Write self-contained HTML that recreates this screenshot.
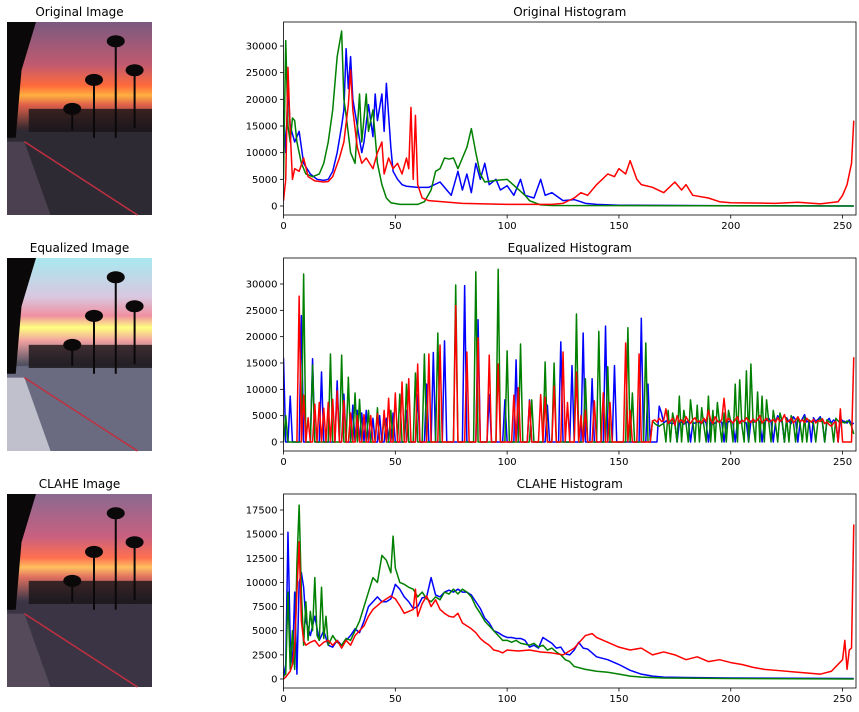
<!DOCTYPE html>
<html><head><meta charset="utf-8"><style>
body{margin:0;background:#fff;}
svg{display:block;font-family:"DejaVu Sans","Liberation Sans",sans-serif;}
</style></head><body>
<svg id="fig" width="859" height="712" viewBox="0 0 859 712">
<defs>
<linearGradient id="gOrig" x1="0" y1="0" x2="0" y2="1">
<stop offset="0" stop-color="#7a5a80"/><stop offset="0.22" stop-color="#c05a70"/><stop offset="0.33" stop-color="#ff6a3a"/><stop offset="0.38" stop-color="#ffb040"/><stop offset="0.43" stop-color="#e0604a"/><stop offset="0.55" stop-color="#3a2a30"/><stop offset="1" stop-color="#2a2230"/></linearGradient>
<linearGradient id="gEq" x1="0" y1="0" x2="0" y2="1">
<stop offset="0" stop-color="#a8e8f0"/><stop offset="0.2" stop-color="#d8c8e0"/><stop offset="0.3" stop-color="#f090a0"/><stop offset="0.36" stop-color="#ffff80"/><stop offset="0.43" stop-color="#f0a0a0"/><stop offset="0.55" stop-color="#505060"/><stop offset="0.7" stop-color="#706a80"/><stop offset="1" stop-color="#b0b0c0"/></linearGradient>
<linearGradient id="gCl" x1="0" y1="0" x2="0" y2="1">
<stop offset="0" stop-color="#8a6a90"/><stop offset="0.22" stop-color="#c86080"/><stop offset="0.33" stop-color="#ff7050"/><stop offset="0.38" stop-color="#ffc060"/><stop offset="0.43" stop-color="#e07060"/><stop offset="0.55" stop-color="#403848"/><stop offset="1" stop-color="#383048"/></linearGradient>
</defs>
<g id="images"></g>
<g id="charts"></g>
</svg>
<script>
// ---------- Original histogram data (bin, count) ----------
const origBlue=[[0,18000],[1,10000],[2,22000],[3,15000],[5,12000],[7,14000],[9,8000],[12,6000],[15,5000],[18,4800],[20,5000],[22,6500],[24,10000],[26,15000],[27,18000],[28,29500],[29,22000],[30,28000],[31,20000],[33,15000],[35,10000],[36,12000],[38,19000],[40,13000],[41,21000],[42,16000],[44,21000],[45,14000],[46,23000],[48,11000],[49,6500],[51,5000],[53,4000],[55,3700],[60,3500],[65,3500],[70,4500],[73,3000],[75,2000],[78,6500],[80,3000],[82,6000],[84,2500],[86,8000],[88,5000],[90,8000],[92,4000],[95,5000],[97,3000],[100,3800],[103,2000],[106,5000],[108,2000],[112,1500],[115,5000],[117,2000],[120,2500],[125,1000],[130,1200],[135,500],[140,300],[150,150],[200,50],[255,0]];
const origGreen=[[0,5000],[1,31000],[2,15000],[3,12000],[4,16500],[5,16000],[6,12000],[8,8000],[10,6000],[13,5500],[16,6000],[18,8000],[20,12000],[22,18000],[24,28000],[26,32800],[27,20000],[28,17000],[30,10000],[32,8000],[34,21000],[35,12000],[37,21000],[38,14000],[40,18000],[42,8000],[44,4000],[46,1500],[48,600],[52,300],[60,300],[63,800],[66,3000],[68,6500],[70,7000],[72,9000],[74,8800],[76,9000],[78,7000],[80,9000],[82,11000],[84,14500],[86,10000],[88,6000],[90,4500],[95,4800],[100,5000],[104,3500],[108,2000],[110,1000],[115,200],[120,100],[255,0]];
const origRed=[[0,1000],[1,5000],[2,26000],[3,14000],[4,5000],[5,7000],[7,6500],[9,9000],[11,5500],[14,4700],[18,4500],[20,4600],[22,5500],[25,9000],[27,12000],[29,19000],[30,25500],[31,18000],[33,11000],[35,8000],[37,9000],[40,7000],[42,10000],[44,12000],[45,6000],[47,9000],[49,7000],[51,8000],[53,6000],[55,9000],[56,7000],[57,18500],[58,5000],[59,17000],[60,4000],[62,1500],[65,1000],[80,500],[100,300],[120,300],[125,500],[130,1500],[133,2500],[136,2000],[140,4000],[145,6000],[148,5500],[150,7000],[153,6000],[155,8500],[158,5000],[160,4000],[165,3500],[170,2500],[175,4500],[178,3000],[180,4000],[183,2000],[190,1500],[195,800],[200,600],[220,500],[230,700],[240,400],[248,800],[250,2000],[252,4000],[254,8000],[255,16000]];

// ---------- Equalized histogram: isolated spikes (bin, count), then dense tail ----------
const eqBlueSpikes=[[0,16000],[3,8700],[8,24000],[13,15800],[17,13300],[24,11600],[27,9100],[31,7000],[33,6000],[35,5500],[37,6000],[40,4500],[43,5000],[46,4500],[49,5500],[55,6000],[60,9000],[64,11000],[67,17000],[72,19200],[81,29700],[87,23200],[92,9000],[99,8000],[104,15600],[110,8000],[118,7000],[124,19000],[129,14500],[134,20700],[138,12000],[144,22000],[148,14500],[160,23500],[163,11000]];
const eqGreenSpikes=[[1,5000],[9,31900],[13,14600],[21,16700],[26,16500],[29,12300],[32,9300],[34,8100],[38,6000],[42,6500],[45,5000],[48,6000],[52,9100],[55,11000],[59,13100],[63,16700],[69,20700],[77,29800],[86,32300],[96,32800],[100,17300],[106,18600],[111,8000],[117,15200],[121,15000],[131,24300],[135,12000],[141,21000],[145,14300],[154,21700],[156,9300],[162,18800]];
const eqRedSpikes=[[7,27700],[9,8900],[11,4600],[14,7200],[16,7500],[18,6400],[20,7500],[22,8100],[24,9700],[27,7800],[30,5500],[33,5000],[36,5200],[39,5000],[42,5400],[45,6000],[47,8300],[50,9300],[53,11400],[56,12000],[60,14800],[65,16700],[70,18400],[77,25900],[82,17100],[87,19800],[92,16500],[96,14800],[103,8900],[105,10300],[110,7800],[115,9000],[117,8500],[121,10600],[125,17100],[127,7500],[131,13300],[133,5000],[135,6000],[139,7800],[143,9300],[146,7500],[153,18800],[155,6000],[159,16700]];
const eqTailStart=165;
const eqBlueTail=[0,0,0,6800,5500,3600,4000,3800,3600,3500,3700,0,3600,3800,3400,3600,4000,0,3500,3600,3800,3700,3500,4200,3600,0,3800,3400,3600,3900,4000,3700,0,3600,3800,4100,3500,0,3900,3700,4200,3800,3600,0,4000,3700,3900,4300,3800,0,3600,4200,4500,3900,0,3800,5000,4200,3700,0,4600,3900,3500,4800,4200,0,3700,4400,5200,3800,4100,0,4600,3900,4300,4800,3700,0,4000,4500,3600,4200,3800,0,4500,4000,3900,3600,4200,3300,3600];
const eqGreenTail=[4000,3500,3200,3000,3300,3500,0,6000,0,5500,3500,0,8700,0,6000,3500,0,8000,4000,0,7000,0,6500,3000,0,8700,0,6000,0,7500,3500,0,5500,0,6000,3800,0,11000,0,11800,3000,0,13500,0,14800,3500,0,9500,0,8700,0,8000,3800,0,6000,3500,0,5500,4000,0,4500,0,5000,3800,0,4500,3500,0,4800,0,4200,3800,3500,0,4000,4500,3700,0,4200,3800,3600,0,4500,4000,3500,3800,3600,4000,3800,3000,1500];
const eqRedTail=[4000,4200,3800,4500,3900,4100,6300,3500,4000,4500,3200,5000,3800,4200,3600,4800,4000,3500,4200,4600,3800,4000,3600,4500,3900,6000,4200,3500,4800,4000,3700,4300,8300,3800,4500,4000,3600,4200,4800,3500,4100,3900,4600,4000,3700,4400,3800,4200,5000,3600,4100,4500,3800,4000,4300,3700,4600,3900,4200,5200,3800,4000,4500,3600,4100,4800,3900,4200,3700,4500,4000,3800,4300,3600,4100,3900,4400,3500,3800,3300,3000,3600,3900,0,6300,0,0,0,0,0,16100];

// ---------- CLAHE histogram data ----------
const claheBlue=[[0,200],[1,1500],[2,15200],[3,4000],[4,1500],[5,9000],[6,500],[7,10000],[8,11000],[9,9500],[10,6000],[12,4500],[14,6500],[16,4000],[18,5000],[20,3500],[22,3300],[24,4000],[26,3500],[28,4000],[30,4500],[32,5200],[34,4800],[36,6000],[38,7500],[40,8000],[42,8500],[44,8000],[46,8000],[48,8300],[50,9800],[52,9300],[54,8500],[56,8000],[58,7300],[60,7500],[62,8400],[64,8500],[66,10500],[68,8700],[70,8500],[72,9000],[74,9200],[76,9000],[78,9300],[80,9000],[82,9000],[84,8700],[86,8000],[88,7300],[90,6300],[92,5800],[94,5000],[96,4800],[98,4500],[100,4300],[102,4300],[104,4200],[106,4200],[108,4000],[110,3300],[112,3500],[114,3200],[116,4300],[118,4000],[120,3700],[122,3200],[124,3300],[126,2600],[128,2500],[130,3000],[132,3800],[134,3200],[136,3100],[138,2700],[140,2300],[145,2000],[150,1500],[155,900],[160,500],[165,300],[170,200],[180,150],[200,100],[255,50]];
const claheGreen=[[0,300],[1,500],[2,9000],[3,1000],[4,5000],[5,1000],[6,12000],[7,18000],[8,9000],[9,3500],[10,8000],[11,4000],[12,7000],[13,5000],[14,10500],[15,4500],[16,4000],[17,9500],[18,4200],[19,6500],[20,3500],[22,4500],[24,3800],[26,3500],[28,4200],[30,4000],[32,5000],[34,6000],[36,7500],[38,9000],[40,10500],[42,10000],[44,12800],[46,12300],[48,11000],[49,14800],[50,11500],[52,10000],[54,9800],[56,9500],[58,9300],[60,8500],[62,9000],[64,8300],[66,8000],[68,8500],[70,8200],[72,9000],[74,8800],[76,9300],[78,8800],[80,9300],[82,9000],[84,8500],[86,7500],[88,6800],[90,6000],[92,5500],[94,5000],[96,4500],[98,4000],[100,4000],[102,3800],[104,4000],[106,3700],[108,3600],[110,3500],[112,3700],[114,3300],[116,3500],[118,3000],[120,3200],[122,2800],[124,2500],[126,2000],[128,1800],[130,1300],[135,1000],[140,800],[145,700],[150,500],[155,300],[160,200],[170,100],[200,50],[255,0]];
const claheRed=[[0,0],[1,200],[2,500],[3,800],[4,1500],[5,3500],[6,9000],[7,14200],[8,6000],[9,4000],[10,3500],[12,3800],[14,4000],[16,3400],[18,3800],[20,4000],[22,3500],[24,4000],[26,3200],[28,4000],[30,3500],[32,4500],[34,5000],[36,5500],[38,6500],[40,7200],[42,7600],[44,8000],[46,8300],[48,8600],[50,8300],[52,7600],[54,6800],[56,7000],[58,7200],[59,9300],[60,6500],[62,7800],[64,8600],[66,7500],[68,8200],[70,7200],[72,6800],[74,6500],[76,6400],[78,6800],[80,5800],[82,5500],[84,5200],[86,4800],[88,4200],[90,3800],[92,3500],[94,3000],[96,2900],[98,2700],[100,3000],[105,2900],[110,3000],[115,2800],[120,2700],[125,2500],[130,3200],[135,4500],[138,4700],[140,4300],[145,3800],[150,3300],[155,3000],[160,3200],[165,2500],[170,2800],[175,2500],[180,2000],[185,2300],[190,1800],[195,2000],[200,1700],[205,1500],[210,1200],[215,1000],[220,900],[230,700],[240,500],[245,800],[250,2000],[251,4000],[252,1000],[253,3000],[254,3200],[255,16000]];

const xTicks=[0,50,100,150,200,250];
const ticks1=[0,5000,10000,15000,20000,25000,30000];
const ticks3=[0,2500,5000,7500,10000,12500,15000,17500];

const NS='http://www.w3.org/2000/svg';
function mk(tag,attrs,parent){const e=document.createElementNS(NS,tag);for(const k in attrs)e.setAttribute(k,attrs[k]);parent.appendChild(e);return e;}
function eqSeries(spikes,tail){const pts=[];let last=-1;spikes.forEach(([b,v])=>{if(b-1>last)pts.push([b-1,0]);pts.push([b,v]);pts.push([b+1,0]);last=b+1;});if(eqTailStart-1>last)pts.push([eqTailStart-1,0]);tail.forEach((v,i)=>{if(eqTailStart+i<=255)pts.push([eqTailStart+i,v]);});return pts;}

const charts=[
 {name:'original-histogram',title:'Original Histogram',top:22,bot:215,ymin:-1690,ymax:34500,ticks:ticks1,series:[['blue',origBlue],['green',origGreen],['red',origRed]]},
 {name:'equalized-histogram',title:'Equalized Histogram',top:258,bot:451,ymin:-1709,ymax:34937,ticks:ticks1,series:[['blue',eqSeries(eqBlueSpikes,eqBlueTail)],['green',eqSeries(eqGreenSpikes,eqGreenTail)],['red',eqSeries(eqRedSpikes,eqRedTail)]]},
 {name:'clahe-histogram',title:'CLAHE Histogram',top:494,bot:688,ymin:-932,ymax:19157,ticks:ticks3,series:[['blue',claheBlue],['green',claheGreen],['red',claheRed]]}
];
const L=283.5,R=856;
const xs=v=>L+(v/256)*(R-L);
const G=document.getElementById('charts');
charts.forEach(c=>{
 const g=mk('g',{},G);
 
 
 const ys=v=>c.bot-(v-c.ymin)/(c.ymax-c.ymin)*(c.bot-c.top);
 const t=mk('text',{x:(L+R)/2,y:c.top-6,'text-anchor':'middle','font-size':12,fill:'#000'},g);t.textContent=c.title;
 
 
 const cp='clip-'+c.name;
 const cl=mk('clipPath',{id:cp},g);mk('rect',{x:L,y:c.top,width:R-L,height:c.bot-c.top},cl);
 c.series.forEach(([col,pts])=>{
  const p=mk('polyline',{points:pts.map(([b,v])=>xs(b).toFixed(2)+','+ys(v).toFixed(2)).join(' '),fill:'none',stroke:col,'stroke-width':1.5,'stroke-linejoin':'round','clip-path':'url(#'+cp+')'},g);
  
  
 });
 const fr=mk('rect',{x:L,y:c.top,width:R-L,height:c.bot-c.top,fill:'none',stroke:'#000','stroke-width':0.8},g);
 
 
 xTicks.forEach(v=>{const x=xs(v);mk('line',{x1:x,x2:x,y1:c.bot,y2:c.bot+3.5,stroke:'#000','stroke-width':0.8},g);
  const tt=mk('text',{x:x,y:c.bot+14,'text-anchor':'middle','font-size':10,fill:'#000'},g);tt.textContent=v;
  
  });
 c.ticks.forEach(v=>{const y=ys(v);mk('line',{x1:L-3.5,x2:L,y1:y,y2:y,stroke:'#000','stroke-width':0.8},g);
  const tt=mk('text',{x:L-6,y:y+3.5,'text-anchor':'end','font-size':10,fill:'#000'},g);tt.textContent=v;
  
  });
});

// ---------- thumbnails ----------
const I=document.getElementById('images');
[['original-image','Original Image',22,'gOrig','#2e2a34','#4a4050'],['equalized-image','Equalized Image',258,'gEq','#6a6a80','#c0c0cc'],['clahe-image','CLAHE Image',494,'gCl','#3a3444','#554a5a']].forEach(([n,title,top,grad,road,walk])=>{
 const g=mk('g',{},I);
 
 
 const t=mk('text',{x:79.5,y:top-6,'text-anchor':'middle','font-size':12,fill:'#000'},g);t.textContent=title;
 
 
 const x0=7,w=145,h=193;
 mk('rect',{x:x0,y:top,width:w,height:h,fill:'url(#'+grad+')'},g);
 mk('polygon',{points:`${x0},${top+h*0.56} ${x0+w},${top+h*0.56} ${x0+w},${top+h} ${x0+w*0.3},${top+h} ${x0+w*0.12},${top+h*0.62} ${x0},${top+h*0.62}`,fill:road},g);
 mk('polygon',{points:`${x0},${top+h*0.62} ${x0+w*0.12},${top+h*0.62} ${x0+w*0.3},${top+h} ${x0},${top+h}`,fill:walk},g);
 mk('line',{x1:x0+w*0.12,y1:top+h*0.62,x2:x0+w*0.9,y2:top+h,stroke:'#c03040','stroke-width':1.5},g);
 mk('polygon',{points:`${x0},${top} ${x0+w*0.2},${top} ${x0+w*0.1},${top+h*0.25} ${x0+w*0.06},${top+h*0.6} ${x0},${top+h*0.6}`,fill:'#0a0808'},g);
 mk('rect',{x:x0+w*0.15,y:top+h*0.45,width:w*0.85,height:h*0.12,fill:'#181418',opacity:0.8},g);
 [[0.75,0.1,0.6],[0.6,0.3,0.6],[0.45,0.45,0.56],[0.88,0.25,0.55]].forEach(([fx,fy,fb])=>{
  mk('line',{x1:x0+w*fx,y1:top+h*fy,x2:x0+w*fx,y2:top+h*fb,stroke:'#0a0808','stroke-width':2},g);
  mk('ellipse',{cx:x0+w*fx,cy:top+h*fy,rx:9,ry:6,fill:'#0a0808'},g);
 });
});
</script>
</body></html>
